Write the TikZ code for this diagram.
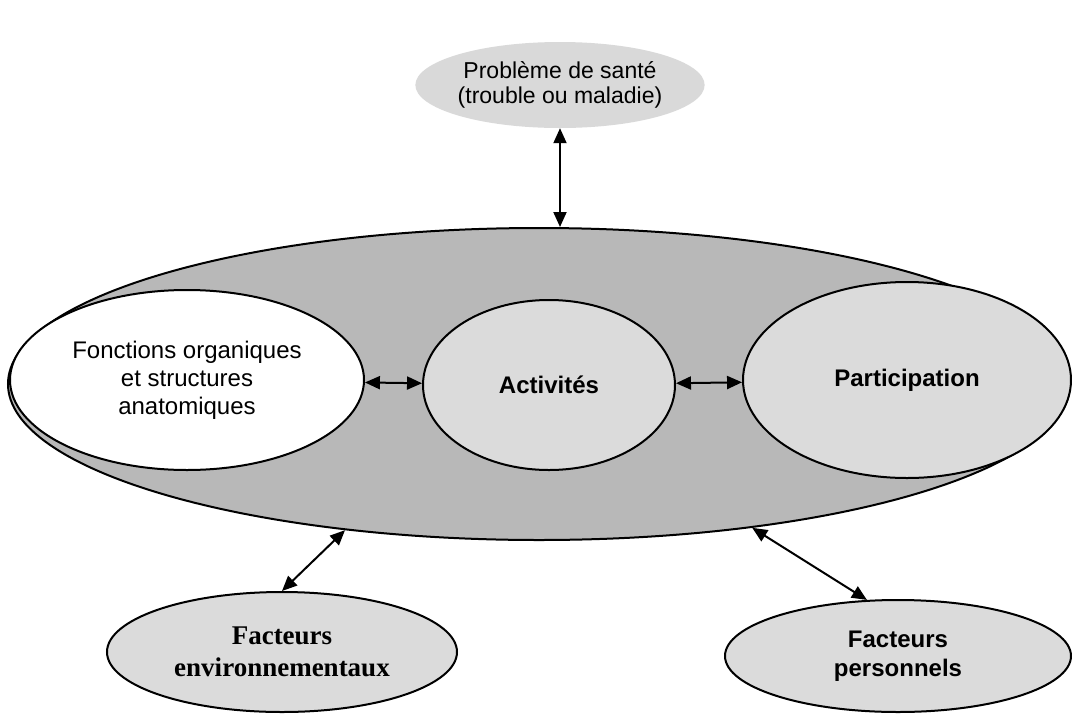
\documentclass[tikz,border=0pt]{standalone}
\usepackage{fontspec}
\setmainfont{Liberation Sans}
\newfontfamily\timesfont{Liberation Serif}
\usetikzlibrary{shapes,arrows.meta}

\definecolor{BIG_GRAY}{gray}{0.72}
\definecolor{LIGHT_GRAY}{gray}{0.86}
\definecolor{TOP_GRAY}{gray}{0.85}

\tikzstyle{bubble} = [ellipse, draw=black, line width=2pt, inner sep=0pt, align=center, font=\fontsize{24}{28}\selectfont]
\tikzstyle{light} = [fill=LIGHT_GRAY]
\tikzstyle{ICF_FRAME} = [bubble, fill=BIG_GRAY, minimum width=1062pt, minimum height=312pt]
\tikzstyle{ICF_DOMAIN} = [bubble, light, font=\fontsize{24}{28}\selectfont\bfseries]
\tikzstyle{ICF_FACTOR} = [bubble, light]
\tikzstyle{link} = [{Triangle[length=15pt,width=13pt]}-{Triangle[length=15pt,width=13pt]}, line width=2pt]

\begin{document}
\begin{tikzpicture}[x=1pt, y=-1pt]
      \useasboundingbox (0,0) rectangle (1072,713);

      %%%%%%%%%%%%%%%%%%%%%%%%%%%%%%%%%%%%%%%%%%
      % HEALTH CONDITION
      %%%%%%%%%%%%%%%%%%%%%%%%%%%%%%%%%%%%%%%%%%
      \node[ellipse, fill=TOP_GRAY, inner sep=0pt, align=center, minimum width=244pt, minimum height=86pt,
            font=\fontsize{23}{25}\selectfont] (SANTE) at (560,85)
            {Problème de santé\\(trouble ou maladie)};

      %%%%%%%%%%%%%%%%%%%%%%%%%%%%%%%%%%%%%%%%%%
      % FUNCTIONING
      %%%%%%%%%%%%%%%%%%%%%%%%%%%%%%%%%%%%%%%%%%
      \node[ICF_FRAME] (ICF) at (539,384) {};
      \node[bubble, fill=white, minimum width=354pt, minimum height=180pt] (FONC) at (187,380)
            {Fonctions organiques\\et structures\\anatomiques};
      \node[ICF_DOMAIN, minimum width=252pt, minimum height=170pt] (ACT) at (549,385) {Activités};
      \node[ICF_DOMAIN, minimum width=328pt, minimum height=196pt] (PART) at (907,380) {Participation};

      %%%%%%%%%%%%%%%%%%%%%%%%%%%%%%%%%%%%%%%%%%
      % CONTEXTUAL FACTORS
      %%%%%%%%%%%%%%%%%%%%%%%%%%%%%%%%%%%%%%%%%%
      \node[ICF_FACTOR, minimum width=350pt, minimum height=120pt,
            font=\timesfont\fontsize{27}{32}\selectfont\bfseries] (ENV) at (282,652)
            {Facteurs\\environnementaux};
      \node[ICF_FACTOR, minimum width=346pt, minimum height=112pt,
            font=\fontsize{24}{29}\selectfont\bfseries] (PERS) at (898,656)
            {Facteurs\\personnels};

      \draw[link] (SANTE.south) -- (SANTE.south |- ICF.north);
      \draw[link] (FONC) -- (ACT);
      \draw[link] (ACT) -- (PART);
      \draw[link] (ICF.217) -- (ENV.north);
      \draw[link] (ICF.326) -- (PERS.119);

\end{tikzpicture}
\end{document}
